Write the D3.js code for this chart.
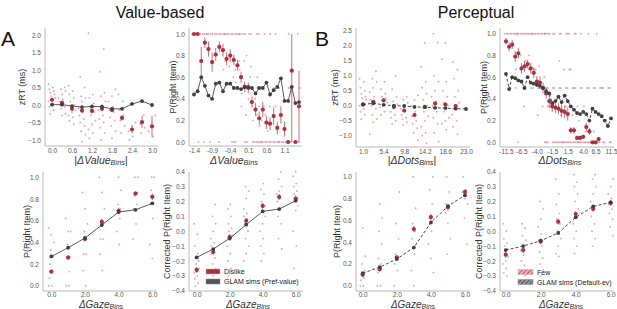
<!DOCTYPE html>
<html>
<head>
<meta charset="utf-8">
<script src="https://cdn.jsdelivr.net/npm/d3@7"></script>
<style>
  body { margin: 0; background: #fff; }
  svg { display: block; font-family: "Liberation Sans", Arial, sans-serif; }
</style>
</head>
<body>
<div id="chart"></div>
<script>
// ---- value-based task: RT by |dValue| ----
const absValueBins = [0.0, 0.3, 0.6, 0.9, 1.2, 1.5, 1.8, 2.1, 2.4, 2.7, 3.0];
const rtValueObs = [0.15, 0.06, -0.11, -0.16, -0.17, -0.11, -0.14, -0.37, -0.70, -0.49, -0.61];
const rtValueErr = [0.04, 0.05, 0.05, 0.06, 0.07, 0.07, 0.06, 0.08, 0.11, 0.17, 0.30];
const rtValueSim = [0.01, 0.01, -0.03, -0.06, -0.04, -0.05, -0.11, -0.11, 0.03, 0.11, 0.0];
const rtValueSubj = [
  [0.6, 0.5, 0.45, 0.4, 0.35, 0.3, 0.25, 0.2, 0.12, 0.1, 0.05, -0.05, -0.15, -0.25],
  [0.5, 0.45, 0.4, 0.3, 0.2, 0.15, 0.1, 0.05, 0.0, -0.05, -0.1, -0.25, -0.3],
  [0.55, 0.4, 0.3, 0.2, 0.1, 0.0, -0.1, -0.15, -0.2, -0.3, -0.35, -0.45, -0.55],
  [0.8, 0.5, 0.25, 0.2, 0.1, -0.1, -0.2, -0.3, -0.4, -0.5, -0.6, -0.75, -0.85, -1.05],
  [2.05, 0.3, 0.2, 0.05, -0.1, -0.2, -0.3, -0.45, -0.55, -0.7, -0.8, -0.95],
  [1.6, 0.95, 0.35, 0.25, 0.1, 0.0, -0.15, -0.3, -0.4, -0.5, -0.65, -0.8, -1.0],
  [0.45, 0.25, 0.1, -0.05, -0.15, -0.2, -0.35, -0.45, -0.6, -0.75, -0.95],
  [0.3, 0.1, -0.15, -0.3, -0.45, -0.6, -0.8],
  [-0.5, -0.6, -0.75, -0.9, -1.0],
  [-0.3, -0.55, -0.65, -0.8],
  [-0.3, -0.5, -0.75, -0.9]
];

// ---- value-based task: choice by dValue ----
const dValueBins = [-1.4, -1.3, -1.2, -1.1, -1.0, -0.9, -0.8, -0.7, -0.6, -0.5, -0.4, -0.3, -0.2, -0.1, 0.0,
  0.1, 0.2, 0.3, 0.4, 0.5, 0.6, 0.7, 0.8, 0.9, 1.0, 1.1, 1.2, 1.3, 1.4, 1.5];
const dValueTicks = [-1.4, -0.9, -0.4, 0.1, 0.6, 1.1];
const pValueObs = [1.0, 1.0, 0.75, 0.92, 0.86, 0.74, 0.81, 0.88, 0.85, 0.77, 0.80, 0.76, 0.71, 0.60, 0.51,
  0.50, 0.37, 0.30, 0.22, 0.30, 0.18, 0.17, 0.24, 0.13, 0.25, 0.12, 0.0, 0.66, 0.0, 0.33];
const pValueErr = [0, 0, 0.13, 0.05, 0.07, 0.09, 0.06, 0.05, 0.06, 0.06, 0.06, 0.05, 0.05, 0.05, 0.05,
  0.05, 0.05, 0.06, 0.06, 0.07, 0.06, 0.06, 0.08, 0.06, 0.08, 0.07, 0, 0.66, 0, 0.33];
const pValueSim = [0.44, 0.47, 0.60, 0.52, 0.43, 0.40, 0.54, 0.55, 0.47, 0.54, 0.54, 0.50, 0.50, 0.49, 0.51,
  0.51, 0.50, 0.45, 0.50, 0.50, 0.55, 0.44, 0.48, 0.51, 0.59, 0.38, 0.38, 0.51, 0.36, 0.37];
const pValueTopIdx = [0, 0, 1, 1, 2, 2, 3, 3, 4, 4, 5, 5, 6, 6, 7, 7, 8, 8, 9, 9, 10, 10, 11, 11, 12, 12,
  13, 13, 14, 14, 15, 16, 17, 18, 19, 21, 23, 26, 29];
const pValueBottomIdx = [1, 3, 4, 7, 10, 11, 12, 14, 15, 16, 17, 17, 18, 18, 19, 19, 20, 20, 21, 21, 22, 22,
  23, 23, 24, 24, 25, 25, 26, 26, 27, 28, 29];
const pValueMid = [[6, 0.8], [8, 0.67], [9, 0.75], [10, 0.8], [10, 0.7], [11, 0.67], [11, 0.6], [12, 0.75],
  [12, 0.5], [12, 0.55], [13, 0.33], [13, 0.67], [13, 0.45], [14, 0.5], [14, 0.25], [14, 0.75], [15, 0.6],
  [15, 0.4], [15, 0.8], [16, 0.33], [16, 0.5], [16, 0.2], [16, 0.7], [17, 0.25], [17, 0.4], [17, 0.6],
  [18, 0.33], [18, 0.5], [18, 0.15], [19, 0.2], [19, 0.33], [20, 0.25], [20, 0.1], [21, 0.33], [22, 0.33],
  [22, 0.5], [24, 0.5], [26, 0.5], [27, 0.5], [29, 0.5]];

// ---- perceptual task: RT by |dDots| ----
const absDotsBins = [1.0, 3.2, 5.4, 7.6, 9.8, 12.0, 14.2, 16.4, 18.6, 20.8, 23.0];
const absDotsTicks = [1.0, 5.4, 9.8, 14.2, 18.6, 23.0];
const rtDotsObs = [0.04, 0.13, 0.18, -0.04, -0.16, -0.31, -0.04, 0.07, 0.04, -0.01];
const rtDotsErr = [0.04, 0.05, 0.05, 0.06, 0.06, 0.07, 0.07, 0.07, 0.07, 0.07];
const rtDotsSim = [0.04, 0.08, 0.03, 0.0, -0.01, -0.04, -0.05, -0.07, -0.08, -0.10, -0.11];
const rtDotsSubj = [
  [0.9, 0.8, 0.6, 0.5, 0.4, 0.3, 0.25, 0.2, 0.1, 0.0, -0.1, -0.2, -0.3, -0.45],
  [1.15, 0.9, 0.8, 0.6, 0.45, 0.3, 0.2, 0.1, 0.0, -0.1, -0.3, -0.45, -0.55, -0.95],
  [0.8, 0.55, 0.4, 0.3, 0.25, 0.2, 0.1, 0.05, -0.05, -0.2, -0.3],
  [1.0, 0.55, 0.3, 0.15, 0.05, -0.05, -0.2, -0.3, -0.4, -0.5, -0.6],
  [0.3, 0.2, 0.1, 0.0, -0.1, -0.2, -0.3, -0.4, -0.45, -0.55, -0.65],
  [0.35, 0.2, 0.0, -0.2, -0.35, -0.5, -0.6, -0.75, -0.9, -1.15],
  [2.1, 1.3, 0.8, 0.6, 0.4, 0.2, 0.0, -0.2, -0.35, -0.5, -0.7, -0.9, -1.0, -1.25],
  [2.4, 2.1, 1.0, 0.8, 0.5, 0.3, 0.15, 0.0, -0.2, -0.4, -0.6, -0.9, -1.2],
  [2.1, 1.55, 0.8, 0.5, 0.3, 0.1, 0.0, -0.2, -0.4, -0.5, -0.6, -0.8],
  [1.45, 1.2, 0.9, 0.5, 0.3, 0.1, -0.1, -0.3, -0.5, -0.7, -0.95],
  []
];

// ---- perceptual task: choice by dDots (binned categories) ----
const dDotsTickIdx = [0, 5, 10, 15, 20, 25, 29, 34];
const dDotsTickLabels = ["-11.5", "-6.5", "-4.0", "-1.5", "1.5", "4.0", "6.5", "11.5"];
const pDotsObs = [0.93, 0.88, 0.90, 0.79, 0.82, 0.68, 0.70, 0.72, 0.68, 0.64, 0.56, 0.55, 0.50, 0.45, 0.38,
  0.33, 0.32, 0.31, 0.29, 0.28, 0.26, 0.11, 0.11, 0.04, 0.04, 0.05, 0.14, 0.10, 0.0, 0.0, 0.03];
const pDotsErr = [0.03, 0.04, 0.04, 0.05, 0.05, 0.05, 0.05, 0.04, 0.05, 0.05, 0.05, 0.06, 0.05, 0.05, 0.06,
  0.05, 0.05, 0.05, 0.06, 0.06, 0.06, 0.03, 0.03, 0.02, 0.02, 0.02, 0.04, 0.03, 0, 0, 0.02];
const pDotsSim = [0.63, 0.49, 0.60, 0.59, 0.57, 0.56, 0.50, 0.60, 0.55, 0.54, 0.53, 0.52, 0.50, 0.47, 0.45,
  0.36, 0.38, 0.42, 0.37, 0.43, 0.38, 0.33, 0.30, 0.27, 0.26, 0.28, 0.26, 0.20, 0.31, 0.28, 0.26, 0.24,
  0.20, 0.15, 0.22];
const pDotsTopIdx = [0, 0, 1, 1, 2, 2, 3, 3, 4, 4, 5, 5, 6, 6, 7, 7, 8, 8, 9, 9, 10, 10, 11, 11, 12, 12,
  13, 13, 14, 14, 15, 16, 17, 18, 19, 20, 21, 22, 23, 24, 27, 29];
const pDotsBottomIdx = [4, 12, 13, 14, 15, 16, 16, 17, 17, 18, 18, 19, 19, 20, 20, 21, 21, 22, 22, 23, 23,
  24, 24, 25, 25, 26, 26, 27, 27, 28, 28, 29, 29, 30, 30, 31, 32, 33, 34];
const pDotsHalfIdx = [2, 3, 6, 8, 9, 10, 11, 12, 13, 14, 15, 16, 17, 18, 19, 20, 21, 22, 23, 24, 25, 26,
  27, 28, 29, 30, 31, 32, 33, 34];
const pDotsMid = [[3, 0.67], [5, 0.8], [6, 0.75], [6, 0.33], [7, 0.67], [8, 0.67], [8, 0.8], [9, 0.67],
  [10, 0.67], [10, 0.25], [11, 0.7], [12, 0.6], [12, 0.33], [13, 0.33], [14, 0.33], [15, 0.33], [16, 0.33],
  [17, 0.4], [17, 0.75], [18, 0.25], [19, 0.33], [19, 0.67], [20, 0.67], [21, 0.67], [22, 0.25],
  [23, 0.33], [24, 0.2], [25, 0.33], [26, 0.1], [28, 0.1]];

// ---- gaze bins (bottom row) ----
const gazeBins = [0, 1, 2, 3, 4, 5, 6];
const gazeTicks = [0, 2, 4, 6];

const pGazeValueObs = [0.13, 0.26, 0.43, 0.59, 0.69, 0.85, 0.82];
const pGazeValueErr = [0.02, 0.02, 0.02, 0.03, 0.03, 0.02, 0.03];
const pGazeValueSim = [0.27, 0.35, 0.44, 0.56, 0.68, 0.70, 0.76];
const pGazeValueSubj = [
  [0.0, 0.0, 0.07, 0.13, 0.2, 0.27, 0.33, 0.4, 0.47, 0.53],
  [0.0, 0.0, 0.13, 0.25, 0.27, 0.38, 0.5, 0.5, 0.62],
  [0.0, 0.14, 0.29, 0.29, 0.43, 0.5, 0.57, 0.71, 0.86],
  [0.14, 0.29, 0.43, 0.43, 0.57, 0.6, 0.71, 0.86, 1.0],
  [0.38, 0.5, 0.62, 0.67, 0.71, 0.75, 0.88, 1.0],
  [0.43, 0.57, 0.71, 0.75, 0.83, 0.86, 1.0, 1.0],
  [0.25, 0.38, 0.62, 0.75, 0.83, 0.88, 1.0, 1.0]
];

const corrGazeValueObs = [-0.26, -0.14, -0.04, 0.07, 0.17, 0.23, 0.22];
const corrGazeValueErr = [0.02, 0.02, 0.02, 0.02, 0.02, 0.02, 0.02];
const corrGazeValueSim = [-0.176, -0.12, -0.048, 0.044, 0.133, 0.149, 0.205];
const corrGazeValueSubj = [
  [0.05, -0.02, -0.1, -0.15, -0.18, -0.2, -0.22, -0.25, -0.27, -0.28, -0.3, -0.32, -0.35, -0.37],
  [0.18, 0.1, 0.05, 0.0, -0.05, -0.08, -0.1, -0.12, -0.15, -0.18, -0.22, -0.25, -0.3, -0.33],
  [0.18, 0.15, 0.1, 0.05, 0.02, 0.0, -0.03, -0.06, -0.1, -0.15, -0.2, -0.25, -0.3, -0.35],
  [0.3, 0.27, 0.22, 0.15, 0.12, 0.1, 0.08, 0.05, 0.0, -0.05, -0.1, -0.15, -0.2],
  [0.32, 0.28, 0.25, 0.2, 0.17, 0.14, 0.1, 0.05, 0.0, -0.05, -0.1, -0.15, -0.2],
  [0.4, 0.35, 0.3, 0.27, 0.25, 0.22, 0.2, 0.15, 0.1, 0.05, -0.05, -0.12],
  [0.4, 0.37, 0.32, 0.3, 0.27, 0.25, 0.22, 0.2, 0.17, 0.14, 0.0, -0.1, -0.25]
];

const pGazeDotsObs = [0.10, 0.15, 0.26, 0.52, 0.63, 0.72, 0.86];
const pGazeDotsErr = [0.02, 0.02, 0.02, 0.03, 0.03, 0.03, 0.02];
const pGazeDotsSim = [0.115, 0.17, 0.245, 0.35, 0.58, 0.73, 0.83];
const pGazeDotsSubj = [
  [0.0, 0.0, 0.05, 0.07, 0.1, 0.14, 0.2, 0.27, 0.53],
  [0.0, 0.0, 0.12, 0.2, 0.25, 0.38, 0.5, 0.62, 0.75],
  [0.0, 0.14, 0.2, 0.25, 0.29, 0.43, 0.57, 0.86],
  [0.0, 0.14, 0.29, 0.43, 0.5, 0.57, 0.71, 1.0],
  [0.12, 0.25, 0.38, 0.5, 0.62, 0.75, 0.88, 1.0],
  [0.29, 0.43, 0.57, 0.67, 0.71, 0.75, 0.86, 1.0],
  [0.38, 0.62, 0.75, 0.8, 0.86, 0.88, 1.0]
];

const corrGazeDotsObs = [-0.158, -0.127, -0.07, 0.064, 0.115, 0.15, 0.19];
const corrGazeDotsErr = [0.02, 0.02, 0.02, 0.02, 0.02, 0.02, 0.02];
const corrGazeDotsSim = [-0.127, -0.10, -0.064, -0.012, 0.093, 0.167, 0.194];
const corrGazeDotsSubj = [
  [0.05, 0.0, -0.05, -0.08, -0.1, -0.12, -0.15, -0.17, -0.2, -0.22, -0.25, -0.28, -0.3],
  [0.05, 0.02, -0.03, -0.06, -0.1, -0.13, -0.16, -0.2, -0.23, -0.27, -0.3],
  [0.2, 0.15, 0.08, 0.03, -0.02, -0.06, -0.1, -0.14, -0.18, -0.22, -0.26, -0.3],
  [0.35, 0.25, 0.18, 0.12, 0.08, 0.05, 0.0, -0.05, -0.1, -0.15, -0.17],
  [0.38, 0.33, 0.3, 0.25, 0.2, 0.15, 0.1, 0.05, 0.0, -0.05, -0.1, -0.15],
  [0.38, 0.35, 0.3, 0.25, 0.2, 0.15, 0.1, 0.05, 0.0, -0.05, -0.1],
  [0.35, 0.3, 0.25, 0.22, 0.18, 0.15, 0.12, 0.08, 0.03, -0.03]
];

// ---- drawing ----
const RED = "#a8323f";
const REDLT = "#cf6b78";
const DARK = "#3f3f3f";

const svg = d3.select("#chart").append("svg")
  .attr("width", 617)
  .attr("height", 309);

const defs = svg.append("defs");
function hatch(id, bg, fg) {
  const p = defs.append("pattern").attr("id", id)
    .attr("patternUnits", "userSpaceOnUse").attr("width", 3).attr("height", 3)
    .attr("patternTransform", "rotate(45)");
  p.append("rect").attr("width", 3).attr("height", 3).attr("fill", bg);
  p.append("line").attr("x1", 0).attr("y1", 0).attr("x2", 0).attr("y2", 3)
    .attr("stroke", fg).attr("stroke-width", 1.4);
}
hatch("hatchRed", "#e9b5bb", RED);
hatch("hatchDark", "#9a9a9a", "#333");

// spread points sideways a little so they don't sit on top of each other
function jit(i) { return ((i * 5) % 9 - 4) / 4; }

function flatten(bins, subj) {
  const out = [];
  subj.forEach((vals, k) => vals.forEach(v => out.push([bins[k], v])));
  return out;
}

function panel(o) {
  const { l, r, t, b } = o.frame;
  const x = o.x, y = o.y;
  const g = svg.append("g");

  g.append("path")
    .attr("d", `M${l},${t}V${b}H${r}`)
    .attr("fill", "none")
    .attr("stroke", "#b8b8b8")
    .attr("stroke-width", 1);

  const ya = g.append("g")
    .attr("transform", `translate(${l},0)`)
    .call(d3.axisLeft(y).tickValues(o.yTicks).tickSize(0).tickPadding(4).tickFormat(d3.format(".1f")));
  const xa = g.append("g")
    .attr("transform", `translate(0,${b})`)
    .call(d3.axisBottom(x).tickValues(o.xTicks).tickSize(0).tickPadding(o.xpad || 2).tickFormat(o.xFormat || d3.format(".1f")));
  [ya, xa].forEach(a => {
    a.select(".domain").remove();
    a.attr("font-family", null).attr("font-size", 6.5);
    a.selectAll("text").attr("fill", "#555");
  });

  // single participants
  g.append("g").selectAll("circle")
    .data(o.scatter)
    .join("circle")
    .attr("cx", (d, i) => x(d[0]) + jit(i) * o.jw)
    .attr("cy", d => y(d[1]))
    .attr("r", 0.95)
    .attr("fill", REDLT)
    .attr("opacity", 0.6);

  // observed means with error bars
  const [y0, y1] = y.domain();
  const clamp = v => Math.max(y0, Math.min(y1, v));
  const obs = o.obs.map((v, i) => ({ x: o.bins[i], v, e: o.err[i] }));
  g.append("g").selectAll("line")
    .data(obs)
    .join("line")
    .attr("x1", d => x(d.x)).attr("x2", d => x(d.x))
    .attr("y1", d => y(clamp(d.v - d.e))).attr("y2", d => y(clamp(d.v + d.e)))
    .attr("stroke", REDLT)
    .attr("stroke-width", 1);
  g.append("g").selectAll("circle")
    .data(obs)
    .join("circle")
    .attr("cx", d => x(d.x))
    .attr("cy", d => y(d.v))
    .attr("r", 2.1)
    .attr("fill", RED);

  // model simulations
  const sim = o.sim.map((v, i) => [o.bins[i], v]);
  g.append("path")
    .datum(sim)
    .attr("d", d3.line().x(d => x(d[0])).y(d => y(d[1])))
    .attr("fill", "none")
    .attr("stroke", o.dashed ? "#4a4a4a" : "#5a5a5a")
    .attr("stroke-width", 1)
    .attr("stroke-dasharray", o.dashed ? "3,2" : null);
  g.append("g").selectAll("circle")
    .data(sim)
    .join("circle")
    .attr("cx", d => x(d[0]))
    .attr("cy", d => y(d[1]))
    .attr("r", 1.9)
    .attr("fill", DARK);

  // axis titles
  g.append("text")
    .attr("transform", `translate(${o.ylx},${(t + b) / 2}) rotate(-90)`)
    .attr("text-anchor", "middle")
    .attr("font-size", 9)
    .attr("fill", "#333")
    .text(o.ylabel);

  const xl = g.append("text")
    .attr("x", o.xlx)
    .attr("y", o.xly)
    .attr("text-anchor", "middle")
    .attr("font-size", o.xfs)
    .attr("fill", "#333");
  if (o.abs) xl.append("tspan").text("|");
  xl.append("tspan").attr("font-style", "italic").text(o.xlabel);
  xl.append("tspan").attr("font-style", "italic").attr("font-size", o.xfs * 0.7).attr("dy", o.subDy).text("Bins");
  if (o.abs) xl.append("tspan").attr("dy", -o.subDy).text("|");

  return g;
}

// titles and panel letters
svg.append("text").attr("x", 160).attr("y", 18).attr("text-anchor", "middle")
  .attr("font-size", 16).attr("fill", "#111").text("Value-based");
svg.append("text").attr("x", 476).attr("y", 18).attr("text-anchor", "middle")
  .attr("font-size", 16).attr("fill", "#111").text("Perceptual");
svg.append("text").attr("x", 1).attr("y", 46).attr("font-size", 21).attr("fill", "#111").text("A");
svg.append("text").attr("x", 315).attr("y", 46).attr("font-size", 21).attr("fill", "#111").text("B");

const topLab = { xly: 163.5, xfs: 10.5, subDy: 1.5 };
const botLab = { xly: 307.5, xfs: 10, subDy: 1, xpad: 1.5 };

// A: RT by |dValue|
panel({
  frame: { l: 45, r: 158, t: 28, b: 146 },
  x: d3.scaleLinear().domain([0, 3]).range([52, 152]),
  y: d3.scaleLinear().domain([-1, 2]).range([140, 35]),
  xTicks: [0, 0.6, 1.2, 1.8, 2.4, 3.0],
  yTicks: [-1, -0.5, 0, 0.5, 1, 1.5, 2],
  bins: absValueBins, obs: rtValueObs, err: rtValueErr, sim: rtValueSim,
  scatter: flatten(absValueBins, rtValueSubj), jw: 3.5,
  ylabel: "zRT (ms)", ylx: 25,
  xlabel: "\u0394Value", abs: true, xlx: 101, ...topLab
});

// A: choice by dValue (index positions)
const a2Idx = dValueBins.map((d, i) => i);
panel({
  frame: { l: 189, r: 302, t: 28, b: 146 },
  x: d3.scaleLinear().domain([0, 29]).range([194, 299]),
  y: d3.scaleLinear().domain([0, 1]).range([142, 34]),
  xTicks: dValueTicks.map(v => dValueBins.indexOf(v)),
  xFormat: i => dValueBins[i].toFixed(1),
  yTicks: [0, 0.2, 0.4, 0.6, 0.8, 1.0],
  bins: a2Idx, obs: pValueObs, err: pValueErr, sim: pValueSim,
  scatter: pValueTopIdx.map(i => [i, 1]).concat(pValueBottomIdx.map(i => [i, 0]), pValueMid), jw: 1.8,
  ylabel: "P(Right Item)", ylx: 176,
  xlabel: "\u0394Value", abs: false, xlx: 234, ...topLab
});

// B: RT by |dDots|
panel({
  frame: { l: 356, r: 470, t: 28, b: 147 },
  x: d3.scaleLinear().domain([1, 23]).range([363, 466]),
  y: d3.scaleLinear().domain([-1, 2.5]).range([135.7, 30.7]),
  xTicks: absDotsTicks,
  yTicks: [-1, -0.5, 0, 0.5, 1, 1.5, 2, 2.5],
  bins: absDotsBins, obs: rtDotsObs, err: rtDotsErr, sim: rtDotsSim, dashed: true,
  scatter: flatten(absDotsBins, rtDotsSubj), jw: 3.5,
  ylabel: "zRT (ms)", ylx: 338,
  xlabel: "\u0394Dots", abs: true, xlx: 412, ...topLab
});

// B: choice by dDots (index positions)
const b2Idx = pDotsSim.map((d, i) => i);
panel({
  frame: { l: 500, r: 614, t: 28, b: 147 },
  x: d3.scaleLinear().domain([0, 34]).range([506, 611]),
  y: d3.scaleLinear().domain([0, 1]).range([142.3, 33.7]),
  xTicks: dDotsTickIdx,
  xFormat: i => dDotsTickLabels[dDotsTickIdx.indexOf(i)],
  yTicks: [0, 0.2, 0.4, 0.6, 0.8, 1.0],
  bins: b2Idx, obs: pDotsObs, err: pDotsErr, sim: pDotsSim, dashed: true,
  scatter: pDotsTopIdx.map(i => [i, 1]).concat(pDotsBottomIdx.map(i => [i, 0]),
    pDotsHalfIdx.map(i => [i, 0.5]), pDotsMid), jw: 1.6,
  ylabel: "P(Right Item)", ylx: 487,
  xlabel: "\u0394Dots", abs: false, xlx: 560, ...topLab
});

// A: P(right) by dGaze
panel({
  frame: { l: 43, r: 157, t: 172, b: 291 },
  x: d3.scaleLinear().domain([0, 6]).range([51.3, 152.3]),
  y: d3.scaleLinear().domain([0, 1]).range([285.7, 177.3]),
  xTicks: gazeTicks,
  yTicks: [0, 0.2, 0.4, 0.6, 0.8, 1.0],
  bins: gazeBins, obs: pGazeValueObs, err: pGazeValueErr, sim: pGazeValueSim,
  scatter: flatten(gazeBins, pGazeValueSubj), jw: 2.5,
  ylabel: "P(Right Item)", ylx: 30,
  xlabel: "\u0394Gaze", abs: false, xlx: 101, ...botLab
});

// A: corrected P(right) by dGaze
panel({
  frame: { l: 189, r: 303, t: 172, b: 291 },
  x: d3.scaleLinear().domain([0, 6]).range([196.7, 295.7]),
  y: d3.scaleLinear().domain([-0.4, 0.4]).range([290.7, 171.7]),
  xTicks: gazeTicks,
  yTicks: [-0.4, -0.3, -0.2, -0.1, 0, 0.1, 0.2, 0.3, 0.4],
  bins: gazeBins, obs: corrGazeValueObs, err: corrGazeValueErr, sim: corrGazeValueSim,
  scatter: flatten(gazeBins, corrGazeValueSubj), jw: 2.5,
  ylabel: "Corrected P(Right Item)", ylx: 170,
  xlabel: "\u0394Gaze", abs: false, xlx: 248, ...botLab
});

// B: P(right) by dGaze
panel({
  frame: { l: 356, r: 470, t: 172, b: 291 },
  x: d3.scaleLinear().domain([0, 6]).range([362.7, 465]),
  y: d3.scaleLinear().domain([0, 1]).range([285.7, 176.7]),
  xTicks: gazeTicks,
  yTicks: [0, 0.2, 0.4, 0.6, 0.8, 1.0],
  bins: gazeBins, obs: pGazeDotsObs, err: pGazeDotsErr, sim: pGazeDotsSim, dashed: true,
  scatter: flatten(gazeBins, pGazeDotsSubj), jw: 2.5,
  ylabel: "P(Right Item)", ylx: 340,
  xlabel: "\u0394Gaze", abs: false, xlx: 413, ...botLab
});

// B: corrected P(right) by dGaze
panel({
  frame: { l: 500, r: 614, t: 172, b: 291 },
  x: d3.scaleLinear().domain([0, 6]).range([505.7, 610.7]),
  y: d3.scaleLinear().domain([-0.4, 0.4]).range([290.7, 171.7]),
  xTicks: gazeTicks,
  yTicks: [-0.4, -0.3, -0.2, -0.1, 0, 0.1, 0.2, 0.3, 0.4],
  bins: gazeBins, obs: corrGazeDotsObs, err: corrGazeDotsErr, sim: corrGazeDotsSim, dashed: true,
  scatter: flatten(gazeBins, corrGazeDotsSubj), jw: 2.5,
  ylabel: "Corrected P(Right Item)", ylx: 482,
  xlabel: "\u0394Gaze", abs: false, xlx: 561, ...botLab
});

// legends
function legend(x0, y0, items) {
  const lg = svg.append("g").attr("transform", `translate(${x0},${y0})`);
  items.forEach((it, i) => {
    lg.append("rect").attr("x", 0).attr("y", i * 10).attr("width", it.w).attr("height", 5)
      .attr("fill", it.fill).attr("stroke", it.stroke).attr("stroke-width", 0.5);
    lg.append("text").attr("x", it.w + 4).attr("y", i * 10 + 5).attr("font-size", 7)
      .attr("fill", "#222").text(it.label);
  });
}
legend(206, 269, [
  { label: "Dislike", fill: RED, stroke: "#e8a0a8", w: 14 },
  { label: "GLAM sims (Pref-value)", fill: "#555", stroke: "#888", w: 14 }
]);
legend(518, 269.5, [
  { label: "Few", fill: "url(#hatchRed)", stroke: "#e8a0a8", w: 15 },
  { label: "GLAM sims (Default-ev)", fill: "url(#hatchDark)", stroke: "#888", w: 15 }
]);
</script>
</body>
</html>
